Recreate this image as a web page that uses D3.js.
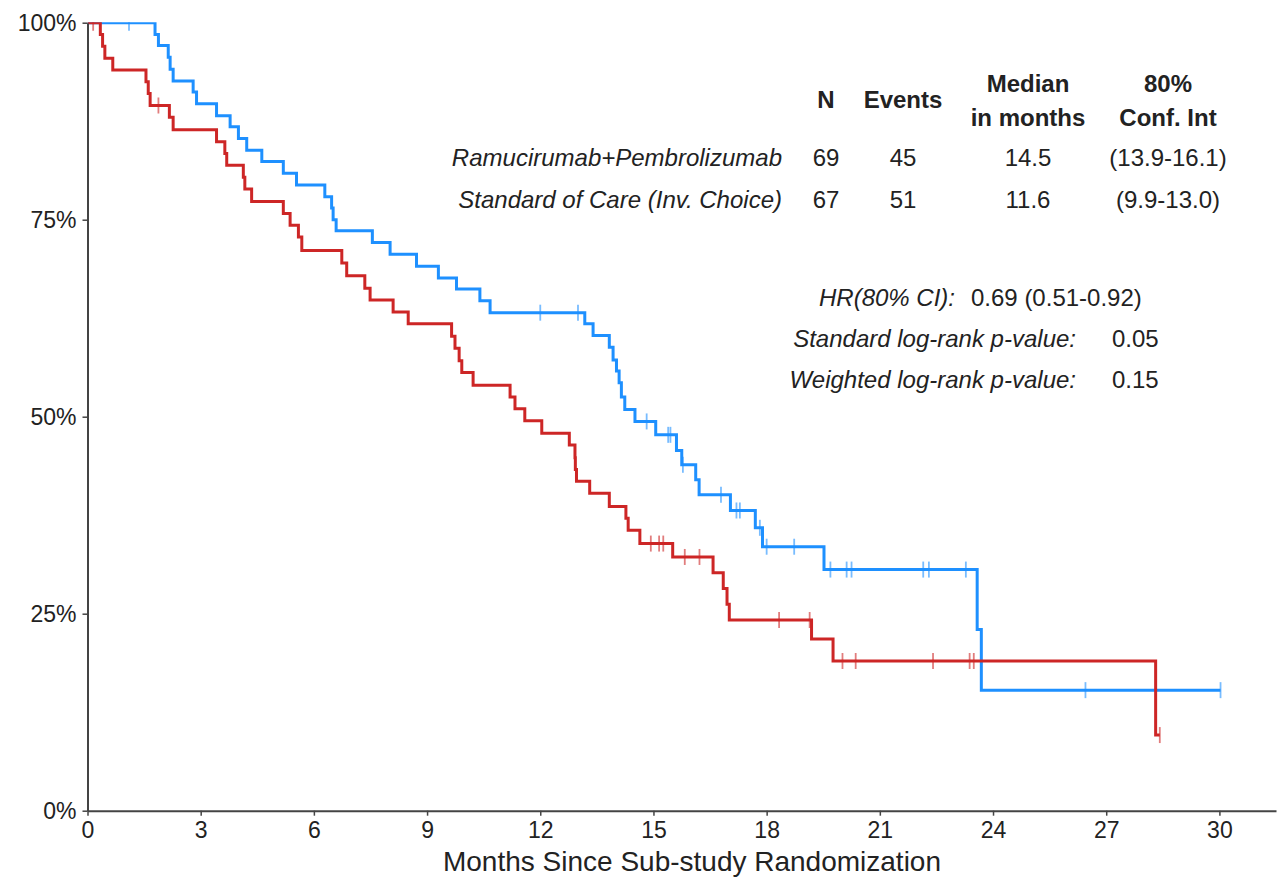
<!DOCTYPE html>
<html>
<head>
<meta charset="utf-8">
<script src="https://cdn.jsdelivr.net/npm/d3@7"></script>
<style>
  body { margin: 0; background: #fff; }
  svg { display: block; font-family: "Liberation Sans", Arial, sans-serif; }
</style>
</head>
<body>
<svg id="km" width="1281" height="877"></svg>
<script>
// event times (months) and survival after each event
var ramTimes = [1.79, 1.88, 2.14, 2.19, 2.27, 2.80, 2.89, 3.42, 3.78, 4.00, 4.22, 4.62, 5.19, 5.54, 6.29,
  6.47, 6.51, 6.59, 7.55, 8.02, 8.72, 9.30, 9.78, 10.40, 10.67, 13.18, 13.40, 13.83, 13.93, 14.02,
  14.09, 14.15, 14.24, 14.51, 15.06, 15.61, 15.75, 16.12, 16.21, 17.04, 17.70, 17.89, 19.52, 23.58, 23.69];
var ramSurv = [0.985, 0.971, 0.956, 0.941, 0.926, 0.912, 0.897, 0.882, 0.868, 0.853, 0.838, 0.824, 0.809, 0.794, 0.779,
  0.765, 0.750, 0.736, 0.721, 0.706, 0.691, 0.676, 0.662, 0.647, 0.632, 0.618, 0.603, 0.588, 0.572, 0.558,
  0.543, 0.525, 0.509, 0.494, 0.477, 0.457, 0.439, 0.420, 0.401, 0.381, 0.359, 0.335, 0.306, 0.230, 0.153];
var ramCensor = [1.10, 12.00, 13.00, 14.82, 15.39, 15.45, 15.78, 16.79, 17.20, 17.29, 17.82, 18.00, 18.73,
  19.69, 20.12, 20.25, 22.15, 22.30, 23.28, 26.45, 30.03];

var socTimes = [0.34, 0.40, 0.46, 0.67, 1.55, 1.61, 1.66, 2.17, 2.27, 3.42, 3.64, 3.69, 4.13, 4.17, 4.35,
  5.19, 5.37, 5.59, 5.68, 6.74, 6.87, 7.35, 7.49, 8.10, 8.50, 9.65, 9.74, 9.85, 9.92, 10.22,
  11.20, 11.33, 11.59, 12.04, 12.77, 12.92, 12.93, 12.96, 13.31, 13.83, 14.27, 14.33, 14.64, 15.51, 16.58,
  16.85, 16.95, 17.01, 19.19, 19.76, 28.31];
var socSurv = [0.985, 0.970, 0.955, 0.940, 0.925, 0.910, 0.895, 0.880, 0.864, 0.849, 0.834, 0.819, 0.804, 0.789, 0.773,
  0.758, 0.743, 0.728, 0.711, 0.695, 0.679, 0.663, 0.648, 0.633, 0.618, 0.602, 0.587, 0.571, 0.556, 0.540,
  0.525, 0.510, 0.495, 0.479, 0.464, 0.448, 0.433, 0.418, 0.403, 0.386, 0.371, 0.356, 0.339, 0.322, 0.302,
  0.282, 0.262, 0.242, 0.218, 0.190, 0.096];
var socCensor = [0.15, 1.88, 14.93, 15.15, 15.26, 15.83, 16.22, 18.33, 19.14, 20.01, 20.36, 22.41, 23.38, 23.49, 28.42];

var xTicks = [0, 3, 6, 9, 12, 15, 18, 21, 24, 27, 30];
var yTicks = [0, 0.25, 0.5, 0.75, 1];

var tableHead = ["N", "Events", "Median|in months", "80%|Conf. Int"];
var armNames = ["Ramucirumab+Pembrolizumab", "Standard of Care (Inv. Choice)"];
var armN = ["69", "67"];
var armEvents = ["45", "51"];
var armMedian = ["14.5", "11.6"];
var armCI = ["(13.9-16.1)", "(9.9-13.0)"];
var statLabels = ["HR(80% CI):", "Standard log-rank p-value:", "Weighted log-rank p-value:"];
var statValues = ["0.69 (0.51-0.92)", "0.05", "0.15"];

var blue = "#1E90FF", red = "#CD2626", ink = "#222";

var svg = d3.select("#km");

var x = d3.scaleLinear().domain([0, 31.5]).range([87.5, 1276]);
var y = d3.scaleLinear().domain([0, 1]).range([810.7, 22.7]);

svg.append("clipPath").attr("id", "panel")
  .append("rect")
  .attr("x", x(0)).attr("y", y(1) - 0.5)
  .attr("width", x(31.5) - x(0)).attr("height", y(0) - y(1) + 0.5);

function survAt(times, surv, t) {
  var s = 1;
  for (var i = 0; i < times.length; i++) {
    if (times[i] <= t) s = surv[i];
  }
  return s;
}

function curvePoints(times, surv, censor) {
  var pts = [[0, 1]];
  times.forEach(function(t, i) { pts.push([t, surv[i]]); });
  var end = Math.max(d3.max(times), d3.max(censor));
  pts.push([end, survAt(times, surv, end)]);
  return pts;
}

var line = d3.line()
  .x(function(d) { return x(d[0]); })
  .y(function(d) { return y(d[1]); })
  .curve(d3.curveStepAfter);

var plot = svg.append("g").attr("clip-path", "url(#panel)");

function drawArm(times, surv, censor, color) {
  plot.append("path")
    .datum(curvePoints(times, surv, censor))
    .attr("d", line)
    .attr("fill", "none")
    .attr("stroke", color)
    .attr("stroke-width", 3);

  plot.selectAll(null)
    .data(censor)
    .enter()
    .append("line")
    .attr("x1", function(d) { return x(d); })
    .attr("x2", function(d) { return x(d); })
    .attr("y1", function(d) { return y(survAt(times, surv, d)) - 8; })
    .attr("y2", function(d) { return y(survAt(times, surv, d)) + 8; })
    .attr("stroke", color)
    .attr("stroke-opacity", 0.6)
    .attr("stroke-width", 1.8);
}

drawArm(ramTimes, ramSurv, ramCensor, blue);
drawArm(socTimes, socSurv, socCensor, red);

// axes
var yAxis = svg.append("g")
  .attr("transform", "translate(" + x(0) + ",0)")
  .call(d3.axisLeft(y).tickValues(yTicks).tickFormat(d3.format(".0%"))
    .tickSize(5).tickSizeOuter(0).tickPadding(6));

var xAxis = svg.append("g")
  .attr("transform", "translate(0," + y(0) + ")")
  .call(d3.axisBottom(x).tickValues(xTicks).tickSize(5).tickSizeOuter(0).tickPadding(6));

[xAxis, yAxis].forEach(function(ax) {
  ax.select(".domain").attr("stroke", "#444").attr("stroke-width", 2);
  ax.selectAll(".tick line").attr("stroke", "#444").attr("stroke-width", 1.5);
  ax.selectAll(".tick text")
    .attr("fill", ink)
    .attr("font-size", "23px")
    .attr("font-family", "Liberation Sans, Arial, sans-serif");
});

svg.append("text")
  .attr("x", 692).attr("y", 871)
  .attr("text-anchor", "middle")
  .attr("font-size", "28px")
  .attr("fill", ink)
  .text("Months Since Sub-study Randomization");

// table of arms
var colX = [826, 903, 1028, 1168];

tableHead.forEach(function(h, i) {
  var parts = h.split("|");
  var ys = parts.length == 1 ? [108] : [92, 126];
  parts.forEach(function(p, j) {
    svg.append("text")
      .attr("x", colX[i]).attr("y", ys[j])
      .attr("text-anchor", "middle")
      .attr("font-size", "24px")
      .attr("font-weight", "bold")
      .attr("fill", ink)
      .text(p);
  });
});

var rowY = [166, 208];
armNames.forEach(function(name, r) {
  svg.append("text")
    .attr("x", 782).attr("y", rowY[r])
    .attr("text-anchor", "end")
    .attr("font-size", "24px")
    .attr("font-style", "italic")
    .attr("fill", ink)
    .text(name);
  [armN[r], armEvents[r], armMedian[r], armCI[r]].forEach(function(v, i) {
    svg.append("text")
      .attr("x", colX[i]).attr("y", rowY[r])
      .attr("text-anchor", "middle")
      .attr("font-size", "24px")
      .attr("fill", ink)
      .text(v);
  });
});

// hazard ratio and p-values
var statY = [306, 347, 388];
var statLabelEnd = [955, 1076, 1076];
var statValueStart = [971, 1112, 1112];
statLabels.forEach(function(lab, i) {
  svg.append("text")
    .attr("x", statLabelEnd[i]).attr("y", statY[i])
    .attr("text-anchor", "end")
    .attr("font-size", "24px")
    .attr("font-style", "italic")
    .attr("fill", ink)
    .text(lab);
  svg.append("text")
    .attr("x", statValueStart[i]).attr("y", statY[i])
    .attr("font-size", "24px")
    .attr("fill", ink)
    .text(statValues[i]);
});
</script>
</body>
</html>
